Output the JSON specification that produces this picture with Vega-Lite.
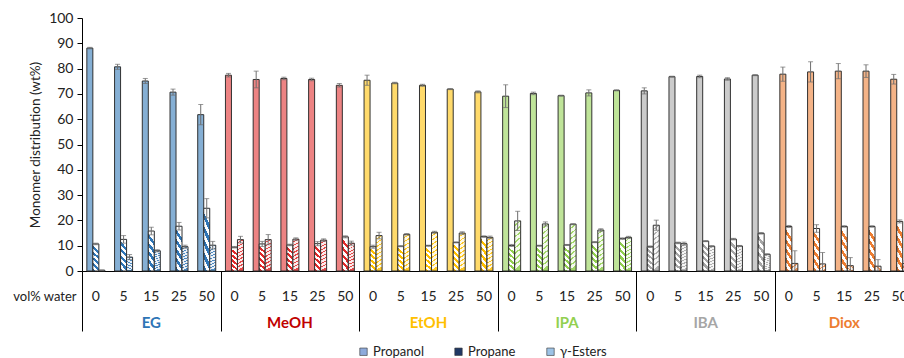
{
  "$schema": "https://vega.github.io/schema/vega-lite/v6.json",
  "width": 822,
  "height": 253,
  "autosize": {"type": "none"},
  "padding": {"left": 82, "top": 18, "right": 0, "bottom": 87},
  "config": {
    "view": {"stroke": null},
    "font": "Lato",
    "axis": {"labelFont": "Lato", "titleFont": "Lato"},
    "legend": {"labelFont": "Lato"}
  },
  "data": {
    "values": [
      {"solvent": "EG", "cat": "EG|0", "product": "Propanol", "value": 88.1, "err": 0.3},
      {"solvent": "EG", "cat": "EG|0", "product": "Propane", "value": 10.7, "err": 0.3},
      {"solvent": "EG", "cat": "EG|0", "product": "γ-Esters", "value": 0.3, "err": 0.1},
      {"solvent": "EG", "cat": "EG|5", "product": "Propanol", "value": 80.7, "err": 1.0},
      {"solvent": "EG", "cat": "EG|5", "product": "Propane", "value": 12.5, "err": 1.5},
      {"solvent": "EG", "cat": "EG|5", "product": "γ-Esters", "value": 5.5, "err": 1.0},
      {"solvent": "EG", "cat": "EG|15", "product": "Propanol", "value": 75.1, "err": 1.0},
      {"solvent": "EG", "cat": "EG|15", "product": "Propane", "value": 15.8, "err": 1.5},
      {"solvent": "EG", "cat": "EG|15", "product": "γ-Esters", "value": 8.0, "err": 0.4},
      {"solvent": "EG", "cat": "EG|25", "product": "Propanol", "value": 70.7, "err": 1.2},
      {"solvent": "EG", "cat": "EG|25", "product": "Propane", "value": 17.7, "err": 1.5},
      {"solvent": "EG", "cat": "EG|25", "product": "γ-Esters", "value": 9.6, "err": 0.6},
      {"solvent": "EG", "cat": "EG|50", "product": "Propanol", "value": 61.8, "err": 4.0},
      {"solvent": "EG", "cat": "EG|50", "product": "Propane", "value": 24.8, "err": 3.8},
      {"solvent": "EG", "cat": "EG|50", "product": "γ-Esters", "value": 10.2, "err": 1.5},
      {"solvent": "MeOH", "cat": "MeOH|0", "product": "Propanol", "value": 77.4, "err": 0.7},
      {"solvent": "MeOH", "cat": "MeOH|0", "product": "Propane", "value": 9.4, "err": 0.3},
      {"solvent": "MeOH", "cat": "MeOH|0", "product": "γ-Esters", "value": 12.4, "err": 1.3},
      {"solvent": "MeOH", "cat": "MeOH|5", "product": "Propanol", "value": 75.7, "err": 3.3},
      {"solvent": "MeOH", "cat": "MeOH|5", "product": "Propane", "value": 10.7, "err": 1.0},
      {"solvent": "MeOH", "cat": "MeOH|5", "product": "γ-Esters", "value": 12.4, "err": 2.0},
      {"solvent": "MeOH", "cat": "MeOH|15", "product": "Propanol", "value": 76.1, "err": 0.5},
      {"solvent": "MeOH", "cat": "MeOH|15", "product": "Propane", "value": 10.3, "err": 0.3},
      {"solvent": "MeOH", "cat": "MeOH|15", "product": "γ-Esters", "value": 12.6, "err": 0.5},
      {"solvent": "MeOH", "cat": "MeOH|25", "product": "Propanol", "value": 75.7, "err": 0.5},
      {"solvent": "MeOH", "cat": "MeOH|25", "product": "Propane", "value": 10.8, "err": 0.8},
      {"solvent": "MeOH", "cat": "MeOH|25", "product": "γ-Esters", "value": 12.2, "err": 0.5},
      {"solvent": "MeOH", "cat": "MeOH|50", "product": "Propanol", "value": 73.4, "err": 0.7},
      {"solvent": "MeOH", "cat": "MeOH|50", "product": "Propane", "value": 13.5, "err": 0.4},
      {"solvent": "MeOH", "cat": "MeOH|50", "product": "γ-Esters", "value": 11.0, "err": 0.8},
      {"solvent": "EtOH", "cat": "EtOH|0", "product": "Propanol", "value": 75.4, "err": 2.0},
      {"solvent": "EtOH", "cat": "EtOH|0", "product": "Propane", "value": 9.6, "err": 0.6},
      {"solvent": "EtOH", "cat": "EtOH|0", "product": "γ-Esters", "value": 14.0, "err": 1.3},
      {"solvent": "EtOH", "cat": "EtOH|5", "product": "Propanol", "value": 74.3, "err": 0.3},
      {"solvent": "EtOH", "cat": "EtOH|5", "product": "Propane", "value": 9.8, "err": 0.2},
      {"solvent": "EtOH", "cat": "EtOH|5", "product": "γ-Esters", "value": 14.5, "err": 0.3},
      {"solvent": "EtOH", "cat": "EtOH|15", "product": "Propanol", "value": 73.4, "err": 0.4},
      {"solvent": "EtOH", "cat": "EtOH|15", "product": "Propane", "value": 10.0, "err": 0.2},
      {"solvent": "EtOH", "cat": "EtOH|15", "product": "γ-Esters", "value": 15.3, "err": 0.4},
      {"solvent": "EtOH", "cat": "EtOH|25", "product": "Propanol", "value": 71.9, "err": 0.2},
      {"solvent": "EtOH", "cat": "EtOH|25", "product": "Propane", "value": 11.3, "err": 0.2},
      {"solvent": "EtOH", "cat": "EtOH|25", "product": "γ-Esters", "value": 15.0, "err": 0.5},
      {"solvent": "EtOH", "cat": "EtOH|50", "product": "Propanol", "value": 70.8, "err": 0.4},
      {"solvent": "EtOH", "cat": "EtOH|50", "product": "Propane", "value": 13.6, "err": 0.3},
      {"solvent": "EtOH", "cat": "EtOH|50", "product": "γ-Esters", "value": 13.3, "err": 0.5},
      {"solvent": "IPA", "cat": "IPA|0", "product": "Propanol", "value": 69.1, "err": 4.5},
      {"solvent": "IPA", "cat": "IPA|0", "product": "Propane", "value": 10.1, "err": 0.4},
      {"solvent": "IPA", "cat": "IPA|0", "product": "γ-Esters", "value": 19.8, "err": 3.8},
      {"solvent": "IPA", "cat": "IPA|5", "product": "Propanol", "value": 70.2, "err": 0.5},
      {"solvent": "IPA", "cat": "IPA|5", "product": "Propane", "value": 10.0, "err": 0.2},
      {"solvent": "IPA", "cat": "IPA|5", "product": "γ-Esters", "value": 18.6, "err": 0.8},
      {"solvent": "IPA", "cat": "IPA|15", "product": "Propanol", "value": 69.3, "err": 0.2},
      {"solvent": "IPA", "cat": "IPA|15", "product": "Propane", "value": 10.3, "err": 0.2},
      {"solvent": "IPA", "cat": "IPA|15", "product": "γ-Esters", "value": 18.5, "err": 0.2},
      {"solvent": "IPA", "cat": "IPA|25", "product": "Propanol", "value": 70.4, "err": 1.2},
      {"solvent": "IPA", "cat": "IPA|25", "product": "Propane", "value": 11.4, "err": 0.2},
      {"solvent": "IPA", "cat": "IPA|25", "product": "γ-Esters", "value": 16.2, "err": 0.5},
      {"solvent": "IPA", "cat": "IPA|50", "product": "Propanol", "value": 71.4, "err": 0.2},
      {"solvent": "IPA", "cat": "IPA|50", "product": "Propane", "value": 12.8, "err": 0.3},
      {"solvent": "IPA", "cat": "IPA|50", "product": "γ-Esters", "value": 13.3, "err": 0.4},
      {"solvent": "IBA", "cat": "IBA|0", "product": "Propanol", "value": 71.2, "err": 1.2},
      {"solvent": "IBA", "cat": "IBA|0", "product": "Propane", "value": 9.6, "err": 0.3},
      {"solvent": "IBA", "cat": "IBA|0", "product": "γ-Esters", "value": 18.1, "err": 2.0},
      {"solvent": "IBA", "cat": "IBA|5", "product": "Propanol", "value": 76.8, "err": 0.2},
      {"solvent": "IBA", "cat": "IBA|5", "product": "Propane", "value": 11.1, "err": 0.3},
      {"solvent": "IBA", "cat": "IBA|5", "product": "γ-Esters", "value": 10.8, "err": 0.6},
      {"solvent": "IBA", "cat": "IBA|15", "product": "Propanol", "value": 76.9, "err": 0.5},
      {"solvent": "IBA", "cat": "IBA|15", "product": "Propane", "value": 11.8, "err": 0.2},
      {"solvent": "IBA", "cat": "IBA|15", "product": "γ-Esters", "value": 9.8, "err": 0.2},
      {"solvent": "IBA", "cat": "IBA|25", "product": "Propanol", "value": 75.9, "err": 0.5},
      {"solvent": "IBA", "cat": "IBA|25", "product": "Propane", "value": 12.6, "err": 0.3},
      {"solvent": "IBA", "cat": "IBA|25", "product": "γ-Esters", "value": 9.9, "err": 0.2},
      {"solvent": "IBA", "cat": "IBA|50", "product": "Propanol", "value": 77.4, "err": 0.2},
      {"solvent": "IBA", "cat": "IBA|50", "product": "Propane", "value": 14.9, "err": 0.3},
      {"solvent": "IBA", "cat": "IBA|50", "product": "γ-Esters", "value": 6.6, "err": 0.2},
      {"solvent": "Diox", "cat": "Diox|0", "product": "Propanol", "value": 77.8, "err": 2.8},
      {"solvent": "Diox", "cat": "Diox|0", "product": "Propane", "value": 17.6, "err": 0.4},
      {"solvent": "Diox", "cat": "Diox|0", "product": "γ-Esters", "value": 3.0, "err": 5.0},
      {"solvent": "Diox", "cat": "Diox|5", "product": "Propanol", "value": 78.7, "err": 4.0},
      {"solvent": "Diox", "cat": "Diox|5", "product": "Propane", "value": 16.8, "err": 1.5},
      {"solvent": "Diox", "cat": "Diox|5", "product": "γ-Esters", "value": 2.8, "err": 4.5},
      {"solvent": "Diox", "cat": "Diox|15", "product": "Propanol", "value": 79.0, "err": 3.0},
      {"solvent": "Diox", "cat": "Diox|15", "product": "Propane", "value": 17.6, "err": 0.3},
      {"solvent": "Diox", "cat": "Diox|15", "product": "γ-Esters", "value": 2.1, "err": 3.2},
      {"solvent": "Diox", "cat": "Diox|25", "product": "Propanol", "value": 79.0, "err": 2.5},
      {"solvent": "Diox", "cat": "Diox|25", "product": "Propane", "value": 17.6, "err": 0.3},
      {"solvent": "Diox", "cat": "Diox|25", "product": "γ-Esters", "value": 1.9, "err": 2.6},
      {"solvent": "Diox", "cat": "Diox|50", "product": "Propanol", "value": 75.8, "err": 1.9},
      {"solvent": "Diox", "cat": "Diox|50", "product": "Propane", "value": 19.6, "err": 0.6},
      {"solvent": "Diox", "cat": "Diox|50", "product": "γ-Esters", "value": 3.0, "err": 1.0}
    ]
  },
  "encoding": {
    "x": {
      "field": "cat",
      "type": "nominal",
      "sort": null,
      "scale": {
        "domain": ["EG|0", "EG|5", "EG|15", "EG|25", "EG|50",
                   "MeOH|0", "MeOH|5", "MeOH|15", "MeOH|25", "MeOH|50",
                   "EtOH|0", "EtOH|5", "EtOH|15", "EtOH|25", "EtOH|50",
                   "IPA|0", "IPA|5", "IPA|15", "IPA|25", "IPA|50",
                   "IBA|0", "IBA|5", "IBA|15", "IBA|25", "IBA|50",
                   "Diox|0", "Diox|5", "Diox|15", "Diox|25", "Diox|50"],
        "range": [0, 831.6],
        "paddingInner": 0.35,
        "paddingOuter": 0.175
      }
    },
    "xOffset": {
      "field": "product",
      "type": "nominal",
      "scale": {"domain": ["Propanol", "Propane", "γ-Esters"], "paddingInner": 0, "paddingOuter": 0}
    },
    "y": {
      "field": "value",
      "type": "quantitative",
      "title": "Monomer distribution (wt%)",
      "scale": {"domain": [0, 100], "nice": false},
      "axis": {
        "values": [0, 10, 20, 30, 40, 50, 60, 70, 80, 90, 100],
        "labelOverlap": false,
        "grid": false,
        "domainColor": "#000",
        "tickColor": "#000",
        "tickSize": 5,
        "labelFontSize": 14,
        "labelPadding": 4,
        "labelColor": "#222",
        "titleFontSize": 13.5,
        "titleFontWeight": "normal",
        "titleColor": "#222",
        "titlePadding": 6
      }
    }
  },
  "layer": [
    {
      "mark": {"type": "bar"},
      "encoding": {
        "x": {
          "field": "cat",
          "type": "nominal",
          "sort": null,
          "axis": {
            "orient": "bottom",
            "title": "vol% water",
            "titleX": -6,
            "titleY": 25,
            "titleAlign": "right",
            "titleBaseline": "middle",
            "titleAngle": 0,
            "titleFontWeight": "normal",
            "titleFontSize": 13,
            "titleColor": "#222",
            "labelExpr": "split(datum.value, '|')[1]",
            "labelAngle": 0,
            "labelBaseline": "middle",
            "labelPadding": 25,
            "labelFontSize": 14,
            "labelColor": "#222",
            "ticks": false,
            "domainColor": "#000",
            "domainWidth": 1
          }
        },
        "fill": {
          "field": "solvent",
          "type": "nominal",
          "legend": null,
          "scale": {
            "domain": ["EG", "MeOH", "EtOH", "IPA", "IBA", "Diox"],
            "range": ["#2e75b6", "#e02a2a", "#ffc000", "#92d050", "#a6a6a6", "#ed7d31"]
          }
        }
      }
    },
    {
      "mark": {"type": "bar", "stroke": "#333", "strokeWidth": 1},
      "encoding": {
        "x": {
          "field": "cat",
          "type": "nominal",
          "sort": null,
          "axis": {
            "orient": "bottom",
            "title": null,
            "domain": false,
            "ticks": false,
            "labelExpr": "split(datum.value, '|')[1] == '15' ? split(datum.value, '|')[0] : ''",
            "labelAngle": 0,
            "labelBaseline": "middle",
            "labelPadding": 51,
            "labelFontSize": 15,
            "labelFontWeight": "bold",
            "labelColor": {
              "condition": [
                {"test": "indexof(datum.value, 'EG|') == 0", "value": "#2e75b6"},
                {"test": "indexof(datum.value, 'MeOH|') == 0", "value": "#c00000"},
                {"test": "indexof(datum.value, 'EtOH|') == 0", "value": "#ffc000"},
                {"test": "indexof(datum.value, 'IPA|') == 0", "value": "#92d050"},
                {"test": "indexof(datum.value, 'IBA|') == 0", "value": "#a6a6a6"}
              ],
              "value": "#ed7d31"
            }
          }
        },
        "fill": {
          "condition": [
            {"test": "datum.product === 'Propanol'", "value": "rgba(255,255,255,0.42)"},
            {
              "test": "datum.product === 'Propane'",
              "value": {
                "gradient": "linear", "x1": 0.2, "y1": 0, "x2": 0, "y2": 1,
                "stops": [
                  {"offset": 0, "color": "#ffffff"}, {"offset": 0.1, "color": "#ffffff"},
                  {"offset": 0.1, "color": "rgba(255,255,255,0)"}, {"offset": 0.2, "color": "rgba(255,255,255,0)"},
                  {"offset": 0.2, "color": "#ffffff"}, {"offset": 0.3, "color": "#ffffff"},
                  {"offset": 0.3, "color": "rgba(255,255,255,0)"}, {"offset": 0.4, "color": "rgba(255,255,255,0)"},
                  {"offset": 0.4, "color": "#ffffff"}, {"offset": 0.5, "color": "#ffffff"},
                  {"offset": 0.5, "color": "rgba(255,255,255,0)"}, {"offset": 0.6, "color": "rgba(255,255,255,0)"},
                  {"offset": 0.6, "color": "#ffffff"}, {"offset": 0.7, "color": "#ffffff"},
                  {"offset": 0.7, "color": "rgba(255,255,255,0)"}, {"offset": 0.8, "color": "rgba(255,255,255,0)"},
                  {"offset": 0.8, "color": "#ffffff"}, {"offset": 0.9, "color": "#ffffff"},
                  {"offset": 0.9, "color": "rgba(255,255,255,0)"}, {"offset": 1, "color": "rgba(255,255,255,0)"}
                ]
              }
            }
          ],
          "value": {
            "gradient": "linear", "x1": 0, "y1": 0, "x2": 0.1, "y2": 1,
            "stops": [
              {"offset": 0, "color": "rgba(255,255,255,0.9)"}, {"offset": 0.08, "color": "rgba(255,255,255,0.9)"},
              {"offset": 0.08, "color": "rgba(255,255,255,0.15)"}, {"offset": 0.111, "color": "rgba(255,255,255,0.15)"},
              {"offset": 0.111, "color": "rgba(255,255,255,0.9)"}, {"offset": 0.19, "color": "rgba(255,255,255,0.9)"},
              {"offset": 0.19, "color": "rgba(255,255,255,0.15)"}, {"offset": 0.222, "color": "rgba(255,255,255,0.15)"},
              {"offset": 0.222, "color": "rgba(255,255,255,0.9)"}, {"offset": 0.3, "color": "rgba(255,255,255,0.9)"},
              {"offset": 0.3, "color": "rgba(255,255,255,0.15)"}, {"offset": 0.333, "color": "rgba(255,255,255,0.15)"},
              {"offset": 0.333, "color": "rgba(255,255,255,0.9)"}, {"offset": 0.41, "color": "rgba(255,255,255,0.9)"},
              {"offset": 0.41, "color": "rgba(255,255,255,0.15)"}, {"offset": 0.444, "color": "rgba(255,255,255,0.15)"},
              {"offset": 0.444, "color": "rgba(255,255,255,0.9)"}, {"offset": 0.52, "color": "rgba(255,255,255,0.9)"},
              {"offset": 0.52, "color": "rgba(255,255,255,0.15)"}, {"offset": 0.555, "color": "rgba(255,255,255,0.15)"},
              {"offset": 0.555, "color": "rgba(255,255,255,0.9)"}, {"offset": 0.63, "color": "rgba(255,255,255,0.9)"},
              {"offset": 0.63, "color": "rgba(255,255,255,0.15)"}, {"offset": 0.666, "color": "rgba(255,255,255,0.15)"},
              {"offset": 0.666, "color": "rgba(255,255,255,0.9)"}, {"offset": 0.74, "color": "rgba(255,255,255,0.9)"},
              {"offset": 0.74, "color": "rgba(255,255,255,0.15)"}, {"offset": 0.777, "color": "rgba(255,255,255,0.15)"},
              {"offset": 0.777, "color": "rgba(255,255,255,0.9)"}, {"offset": 0.85, "color": "rgba(255,255,255,0.9)"},
              {"offset": 0.85, "color": "rgba(255,255,255,0.15)"}, {"offset": 0.888, "color": "rgba(255,255,255,0.15)"},
              {"offset": 0.888, "color": "rgba(255,255,255,0.9)"}, {"offset": 0.96, "color": "rgba(255,255,255,0.9)"},
              {"offset": 0.96, "color": "rgba(255,255,255,0.15)"}, {"offset": 1, "color": "rgba(255,255,255,0.15)"}
            ]
          }
        }
      }
    },
    {
      "mark": {
        "type": "errorbar",
        "clip": true,
        "color": "#6e6e6e",
        "thickness": 1,
        "ticks": {"size": 5, "color": "#6e6e6e"}
      },
      "encoding": {
        "x": {"field": "cat", "type": "nominal", "sort": null, "axis": null},
        "y": {"field": "value", "type": "quantitative", "title": "Monomer distribution (wt%)"},
        "yError": {"field": "err"}
      }
    },
    {
      "mark": {"type": "point", "opacity": 0, "filled": true},
      "encoding": {
        "x": {
          "field": "cat",
          "type": "nominal",
          "sort": null,
          "axis": {
            "orient": "bottom",
            "title": null,
            "domain": false,
            "labels": false,
            "ticks": true,
            "tickSize": 60,
            "bandPosition": 0,
            "tickOffset": -4.85,
            "tickWidth": 1,
            "tickColor": {
              "condition": {"test": "split(datum.value, '|')[1] == '0'", "value": "#000"},
              "value": "transparent"
            }
          }
        },
        "color": {
          "field": "product",
          "type": "nominal",
          "scale": {
            "domain": ["Propanol", "Propane", "γ-Esters"],
            "range": ["#8eaadb", "#203864", "#9dc3e6"]
          },
          "legend": {
            "orient": "none",
            "legendX": 275,
            "legendY": 327,
            "direction": "horizontal",
            "title": null,
            "symbolType": "square",
            "symbolSize": 55,
            "symbolOpacity": 1,
            "symbolStrokeColor": "#333",
            "symbolStrokeWidth": 0.6,
            "labelFontSize": 13,
            "labelColor": "#222",
            "labelOffset": 3,
            "columnPadding": 28
          }
        }
      }
    }
  ],
  "resolve": {"axis": {"x": "independent"}}
}
